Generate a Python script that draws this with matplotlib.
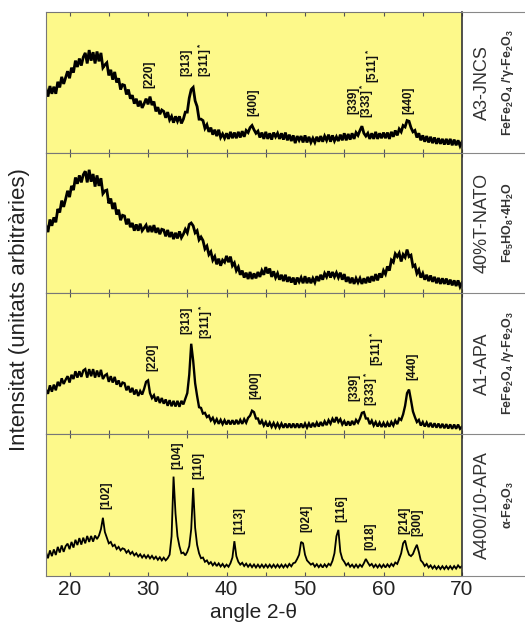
import numpy as np
import matplotlib
matplotlib.use("Agg")
import matplotlib.pyplot as plt
from matplotlib.lines import Line2D

plt.rcParams['font.family'] = ['Liberation Sans', 'DejaVu Sans']
plt.rcParams['mathtext.fontset'] = 'custom'
plt.rcParams['mathtext.rm'] = 'Liberation Sans:bold'
plt.rcParams['mathtext.it'] = 'Liberation Sans:bold'
plt.rcParams['mathtext.bf'] = 'Liberation Sans:bold'

# scan grid, 2-theta in degrees (step 0.25)
two_theta = np.arange(17, 70.001, 0.25)

# intensities (panel height = 100)
a3_jncs = [
    45.5, 40, 47.5, 42, 47, 42, 50.5, 46.5, 54, 49, 53.5, 58, 53, 60.5, 57, 65.5, 61, 67, 62, 68,
    71, 63.5, 73, 65.5, 71.5, 63.5, 72, 65, 71, 60.5, 62.5, 64, 55, 59, 52, 57.5, 50, 53, 45, 48.5,
    48, 41.5, 45, 38.5, 41, 35, 38.5, 33, 37, 32, 35, 38.5, 34.5, 40, 34, 36.5, 29.5, 32.5, 27.5, 30.5,
    29.5, 25, 29, 23.5, 26, 21.5, 26, 22.5, 26, 21, 24, 29, 29, 39, 45, 46.5, 37, 33, 24, 24,
    23, 17.5, 20, 15, 18, 13, 16.5, 12, 16.5, 11, 13.5, 10.5, 14, 10, 15, 10.5, 14.5, 10.5, 15, 11,
    15.5, 11.5, 16, 14.5, 18, 19.5, 16.5, 14, 15.5, 11, 14.5, 10, 15, 10, 14, 9.5, 14.5, 11.5, 14, 10,
    14, 9.5, 14.5, 9, 13, 8.5, 12.5, 7, 12, 9, 12, 7.5, 12.5, 7.5, 11.5, 7.5, 10.5, 7.5, 11.5, 8,
    12, 8, 12, 9, 13, 8, 12.5, 8.5, 11.5, 8.5, 13, 9, 14, 9, 13.5, 9.5, 14, 10, 14.5, 12.5,
    16, 19, 14, 12, 14, 10, 14, 10, 15, 10, 14, 10.5, 14.5, 10.5, 14.5, 10, 15, 11.5, 16, 12.5,
    17, 15, 19.5, 18.5, 23, 22.5, 18, 15, 16, 11, 14, 9, 12.5, 8, 12, 7.5, 11.5, 7, 11, 6.5,
    10.5, 6.5, 10, 6, 10, 6, 10, 5.5, 9.5, 5.5, 9, 5, 8,
]
t_nato = [
    48, 43.5, 52.5, 48, 54, 50.5, 60, 57.5, 66, 61.5, 67, 73, 68.5, 76.5, 73.5, 82.5, 78, 84, 79, 84.5,
    87, 79, 88, 79.5, 85, 76, 84, 76.5, 82, 71, 73, 73.5, 64, 67.5, 60, 64.5, 56, 59.5, 52, 55.5,
    55, 49, 53, 47, 50, 44.5, 49, 44.5, 49.5, 44.5, 46.5, 48.5, 43.5, 48, 43.5, 48.5, 43, 46.5, 42, 45.5,
    45, 40.5, 45, 40, 43.5, 38.5, 43, 39, 44, 39.5, 42, 45.5, 43, 49, 50, 48, 43, 44.5, 38, 40,
    37.5, 31.5, 33.5, 27.5, 29.5, 23.5, 26, 20.5, 24.5, 19.5, 23.5, 22, 26.5, 22, 26, 19.5, 21.5, 16, 18.5, 13,
    16, 11, 14.5, 10, 15, 10, 14, 10.5, 15, 11.5, 16, 13, 18.5, 14, 17.5, 11.5, 15.5, 11, 14, 9.5,
    13, 8.5, 13, 8, 11.5, 7.5, 11, 6, 11, 8, 11, 7, 12, 7, 11, 7, 10.5, 7.5, 12, 8.5,
    13, 9.5, 14, 11.5, 15.5, 11, 15, 11.5, 14.5, 11, 14.5, 9.5, 13.5, 8, 11.5, 7, 11, 6.5, 10.5, 7.5,
    10.5, 6.5, 10.5, 7, 11.5, 7.5, 12, 8.5, 13.5, 9, 14, 11, 16, 13.5, 19, 16, 23.5, 22, 28, 26,
    28.5, 22.5, 27.5, 25.5, 31, 26, 27, 19, 20, 14, 16.5, 11, 14, 9.5, 13, 8.5, 12.5, 8, 11.5, 7,
    10.8, 6.5, 10.5, 6.5, 10.3, 6, 9.5, 5.5, 9, 5, 9, 4.5, 7.4,
]
a1_apa = [
    31.5, 28.5, 34.5, 30, 35, 31, 37, 34, 39.5, 35.5, 38.5, 41, 36.5, 42, 39, 44.5, 40, 44.5, 40.5, 45,
    46, 40, 46, 41, 46, 40, 45, 40.5, 45.5, 39, 41.5, 42.5, 37, 41, 36.5, 40.5, 35, 38, 33.5, 36.5,
    36, 31, 34, 29.5, 32.7, 28, 31.5, 27, 30.5, 28, 32, 37, 38, 29, 25.5, 27.5, 23, 26.5, 22, 25.5,
    21.5, 24.5, 20, 24, 19.7, 23.5, 19.5, 23.5, 19.3, 23.5, 21, 25, 29, 42, 64, 52, 36, 27, 19, 18.5,
    14.5, 15, 12, 13, 9.6, 11.5, 8, 10.5, 7.2, 10, 7, 9.8, 6.8, 9.8, 6.8, 9.8, 6.8, 10, 7, 10,
    7.2, 10.5, 8, 11.5, 13, 16.5, 15.5, 11, 11, 7, 9.5, 6, 8.5, 5.3, 8.1, 5, 7.8, 4.7, 7.5, 4.5,
    7.4, 4.4, 7.4, 4.4, 7.4, 4.4, 7.4, 4.4, 7.4, 4.4, 7.4, 4.4, 7.4, 4.5, 7.5, 4.7, 7.9, 5, 8.1, 5.3,
    8.5, 5.7, 9, 6.3, 9.8, 7.3, 10.8, 8.3, 12, 8.5, 10.5, 6.8, 9.1, 6, 9, 6, 9.3, 6.5, 10, 8,
    11, 15, 15.5, 11, 11, 7, 9.5, 6, 8.5, 5.3, 8.1, 5, 7.9, 4.9, 8, 5.2, 8.5, 6, 9.5, 7,
    11, 10, 14, 20, 29, 31.5, 24, 16, 12, 8.5, 10, 6, 8.5, 5.3, 8.1, 5, 7.9, 4.7, 7.6, 4.5,
    7.4, 4.3, 7.2, 4.1, 7, 3.9, 6.8, 3.7, 6.7, 3.7, 6.7, 3.7, 5.2,
]
a400_apa = [
    16.8, 12.5, 18, 14, 18.7, 14.8, 20.5, 16.5, 21.5, 17, 21, 22.8, 18.9, 24, 20, 25.5, 21.8, 26.7, 22.1, 27,
    23, 28.2, 24, 28.2, 24.2, 28.5, 26, 28.5, 33, 41, 31, 27, 23, 24, 21, 22, 19, 20.5, 18, 19.5,
    18.9, 16.4, 18, 15.5, 17, 14.5, 16, 13.7, 15.3, 13, 14.8, 12.7, 14.6, 12.4, 14.2, 12, 13.6, 11.4, 13.2, 11,
    12.9, 11, 12.5, 15, 28, 70, 44, 28, 21, 16, 16.5, 14.5, 17, 21, 33, 62, 34, 22, 16, 12.5,
    13, 10, 11, 8.5, 9.8, 7.5, 9.3, 7, 8.9, 6.7, 8.5, 6.3, 8, 6.5, 9, 13, 24.5, 14, 10, 8,
    9.3, 7, 8.7, 6.5, 8.3, 6.2, 8.1, 6, 8, 6, 8, 6, 8, 6, 8, 6, 8, 6, 8, 6,
    8, 6, 8, 6.2, 8.5, 6.8, 9, 9.5, 12, 15, 24, 23, 15, 11, 9.5, 8, 8.9, 6.6, 8.3, 6.2,
    8, 6, 8.2, 6.4, 8.6, 7.5, 10.7, 16, 28, 32.5, 17, 12, 10, 7.5, 9, 6.5, 8, 6, 8, 6,
    8, 6.5, 9, 12, 9.5, 7.3, 8.5, 6.2, 8, 6, 8, 6, 8, 6, 8.2, 6.4, 8.6, 7, 9.5, 8.5,
    12, 16, 23, 25, 19, 15, 14, 15.5, 19, 22, 17, 11, 9.5, 7, 8.5, 6, 7.5, 5.3, 7.1, 5,
    6.9, 4.9, 6.9, 4.9, 6.9, 4.9, 6.9, 4.9, 7, 5.2, 7.5, 5.8, 7,
]

# reflection labels: text, 2-theta, bottom of text (panel units)
a3_labels = ["[220]", "[313]", "[311]$^*$", "[400]", "[339]", "[333]$^*$", "[511]$^*$", "[440]"]
a3_lab_x = [30.2, 34.9, 37.2, 43.4, 56.1, 57.9, 58.7, 63.2]
a3_lab_y = [46, 54.4, 54, 26, 27.7, 24.8, 49.6, 27.7]

a1_labels = ["[220]", "[313]", "[311]$^*$", "[400]", "[339]", "[333]$^*$", "[511]$^*$", "[440]"]
a1_lab_x = [30.6, 34.9, 37.4, 43.7, 56.3, 58.4, 59.1, 63.65]
a1_lab_y = [45, 71, 67.4, 24.8, 23.6, 20, 48.5, 38.5]

a400_labels = ["[102]", "[104]", "[110]", "[113]", "[024]", "[116]", "[018]", "[214]", "[300]"]
a400_lab_x = [24.7, 33.7, 36.35, 41.6, 50.15, 54.6, 58.3, 62.67, 64.37]
a400_lab_y = [47, 75.5, 68, 29.8, 31, 38, 18.3, 29.8, 27.9]

sample_names = ["A3-JNCS", "40%T-NATO", "A1-APA", "A400/10-APA"]
phases = ["FeFe$_2$O$_4$ /'γ-Fe$_2$O$_3$", "Fe$_5$HO$_8$·4H$_2$O",
          "FeFe$_2$O$_4$ /γ-Fe$_2$O$_3$", "α-Fe$_2$O$_3$"]

series = [a3_jncs, t_nato, a1_apa, a400_apa]
line_w = [2.0, 2.0, 1.7, 1.3]
labels = [(a3_labels, a3_lab_x, a3_lab_y), None,
          (a1_labels, a1_lab_x, a1_lab_y), (a400_labels, a400_lab_x, a400_lab_y)]

W, H = 525, 623
fig = plt.figure(figsize=(W / 100, H / 100), dpi=100)

edges = [12, 153, 293, 434, 576]   # panel borders, pixels from top
x0, x1 = 46, 462
yellow = '#fdf98a'

for i, ys in enumerate(series):
    top, bot = edges[i], edges[i + 1]
    ax = fig.add_axes([x0 / W, 1 - bot / H, (x1 - x0) / W, (bot - top) / H])
    ax.set_facecolor(yellow)
    ax.plot(two_theta, ys, color='black', lw=line_w[i], solid_joinstyle='miter')
    ax.set_xlim(17, 70)
    ax.set_ylim(0, 100)
    ax.set_yticks([])
    ax.set_xticks([20, 30, 40, 50, 60, 70])
    ax.set_xticks([25, 35, 45, 55, 65], minor=True)
    ax.tick_params(axis='x', which='both', direction='in', top=True, bottom=True,
                   length=3, width=0.8, color='#555555')
    for s in ['left', 'top', 'bottom']:
        ax.spines[s].set_color('#777777')
        ax.spines[s].set_linewidth(0.8)
    ax.spines['right'].set_color('#333333')
    ax.spines['right'].set_linewidth(1.2)
    if i < 3:
        ax.tick_params(axis='x', labelbottom=False)
    else:
        ax.tick_params(axis='x', labelsize=15, labelcolor='#222222', pad=3)
    if labels[i] is not None:
        txt, lx, ly = labels[i]
        for t, xx, yy in zip(txt, lx, ly):
            ax.text(xx, yy, t, rotation=90, ha='center', va='bottom',
                    fontsize=8.5, fontweight='bold', color='#111111')
    ymid = 1 - (top + bot) / 2 / H
    fig.text(482 / W, ymid, sample_names[i], rotation=90, ha='center', va='center',
             fontsize=13, color='#333333')
    fig.text(508 / W, ymid, phases[i], rotation=90, ha='center', va='center',
             fontsize=9, fontweight='bold', color='#333333')

# separators in the label strip
for e in edges:
    yy = 1 - e / H
    fig.add_artist(Line2D([x1 / W, 1], [yy, yy], color='#888888', lw=0.8))

fig.text(20 / W, 1 - 310 / H, "Intensitat (unitats arbitràries)", rotation=90,
         ha='center', va='center', fontsize=16, color='#222222')
fig.text((x0 + x1) / 2 / W, 1 - 612 / H, "angle 2-θ", ha='center', va='center',
         fontsize=15, color='#222222')

fig.savefig('out.png', dpi=100)
